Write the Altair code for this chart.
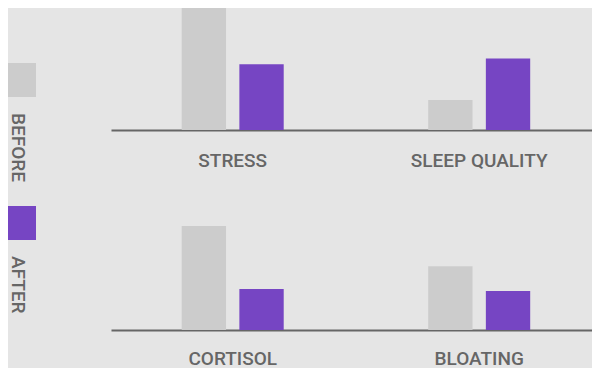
import altair as alt
import pandas as pd

categories_top = ["STRESS", "SLEEP QUALITY"]
categories_bottom = ["CORTISOL", "BLOATING"]
periods = ["BEFORE", "AFTER"]
before_values = [110, 23, 80, 49]
after_values = [50.5, 55, 31.5, 30]

BG = "#e5e5e5"
GRAY = "#cccccc"
PURPLE = "#7645c3"
TEXT = "#666666"
FONT = "Roboto"

cats_all = categories_top + categories_bottom
rows = []
for i, c in enumerate(cats_all):
    rows.append({"category": c, "period": "BEFORE", "value": before_values[i]})
    rows.append({"category": c, "period": "AFTER", "value": after_values[i]})
df = pd.DataFrame(rows)

color_scale = alt.Scale(domain=periods, range=[GRAY, PURPLE])


def row_chart(cats, label_pad):
    d = df[df["category"].isin(cats)]
    return alt.Chart(d).mark_bar(clip=True).encode(
        x=alt.X(
            "category:N",
            sort=cats,
            scale=alt.Scale(paddingInner=0.5862, paddingOuter=0.2688, align=0.5336),
            axis=alt.Axis(
                title=None, labelAngle=0, ticks=False, grid=False,
                domainColor=TEXT, domainWidth=2,
                labelColor=TEXT, labelFontSize=19, labelFont=FONT,
                labelFontWeight=500, labelPadding=label_pad,
            ),
        ),
        xOffset=alt.XOffset(
            "period:N", sort=periods,
            scale=alt.Scale(paddingInner=0.231, paddingOuter=0),
        ),
        y=alt.Y("value:Q", scale=alt.Scale(domain=[0, 93.85], nice=False), axis=None),
        color=alt.Color("period:N", scale=color_scale, legend=None),
    ).properties(width=481, height=122)


legend_df = pd.DataFrame({"period": periods})
leg_y = alt.Y("period:N", sort=periods, axis=None,
              scale=alt.Scale(domain=periods, range=[72, 215], padding=0))
leg_sq = alt.Chart(legend_df).mark_square(size=34 * 34, opacity=1, clip=True).encode(
    x=alt.value(11),
    y=leg_y,
    color=alt.Color("period:N", scale=color_scale, legend=None),
)
leg_txt = alt.Chart(legend_df).mark_text(
    angle=90, align="left", baseline="middle", yOffset=33,
    font=FONT, fontSize=19, fontWeight=500, color=TEXT,
).encode(
    x=alt.value(10),
    y=leg_y,
    text="period:N",
)
legend = alt.layer(leg_sq, leg_txt).properties(width=28, height=300)

main = alt.vconcat(
    row_chart(categories_top, 21),
    row_chart(categories_bottom, 19),
    spacing=38,
)

chart = alt.hconcat(legend, main, spacing=75).configure(
    background=BG,
    padding=0,
).configure_view(stroke=None)

chart.save("out.html", embed_options={"renderer": "svg", "actions": False})
